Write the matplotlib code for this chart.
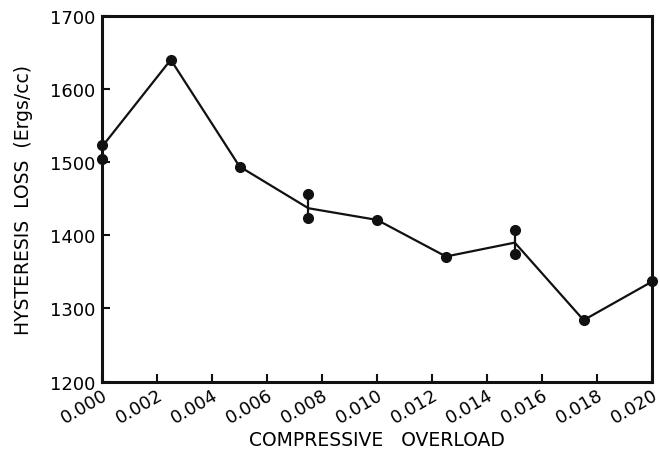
import matplotlib
matplotlib.use("Agg")
import matplotlib.pyplot as plt
import matplotlib.transforms as mtransforms

# measured points
pt_x = [0.0, 0.0, 0.0025, 0.005, 0.0075, 0.0075, 0.010, 0.0125, 0.015, 0.015, 0.0175, 0.020]
pt_y = [1523, 1504, 1640, 1494, 1456, 1423, 1421, 1371, 1407, 1374, 1284, 1337]

# connecting line (through averages)
line_x = [0.0, 0.0025, 0.005, 0.0075, 0.010, 0.0125, 0.015, 0.0175, 0.020]
line_y = [1521, 1640, 1494, 1437, 1421, 1371, 1390, 1284, 1337]

# vertical bars between duplicate measurements
bar_x = [0.0075, 0.015]
bar_lo = [1423, 1374]
bar_hi = [1456, 1407]

x_ticks = [0.000, 0.002, 0.004, 0.006, 0.008, 0.010, 0.012, 0.014, 0.016, 0.018, 0.020]
y_ticks = [1200, 1300, 1400, 1500, 1600, 1700]

fig = plt.figure(figsize=(6.6, 4.56), dpi=100)
ax = fig.add_axes([0.1545, 0.161, 0.834, 0.802])

ax.plot(line_x, line_y, color="#111111", lw=1.6, clip_on=False, zorder=2)
ax.vlines(bar_x, bar_lo, bar_hi, color="#111111", lw=1.6, zorder=2)
ax.plot(pt_x, pt_y, "o", color="#111111", ms=7, clip_on=False, zorder=3)

ax.set_xlim(0, 0.020)
ax.set_ylim(1200, 1700)
ax.set_xticks(x_ticks)
ax.set_xticklabels([f"{v:.3f}" for v in x_ticks], rotation=30, ha="right",
                   rotation_mode="anchor", fontsize=13)
offset = mtransforms.ScaledTranslation(9 / 100, 0, fig.dpi_scale_trans)
for lab in ax.get_xticklabels():
    lab.set_transform(lab.get_transform() + offset)
ax.set_yticks(y_ticks)
ax.set_yticklabels([str(v) for v in y_ticks], fontsize=13)
ax.tick_params(direction="in", length=6, width=1.5, color="#111111", pad=5)
ax.tick_params(axis="x", pad=3)

for s in ax.spines.values():
    s.set_linewidth(2.2)
    s.set_color("#111111")

ax.set_xlabel("COMPRESSIVE   OVERLOAD", fontsize=13.5, labelpad=2)
ax.set_ylabel("HYSTERESIS  LOSS  (Ergs/cc)", fontsize=13.5, labelpad=12)

fig.savefig("out.png", dpi=100)
